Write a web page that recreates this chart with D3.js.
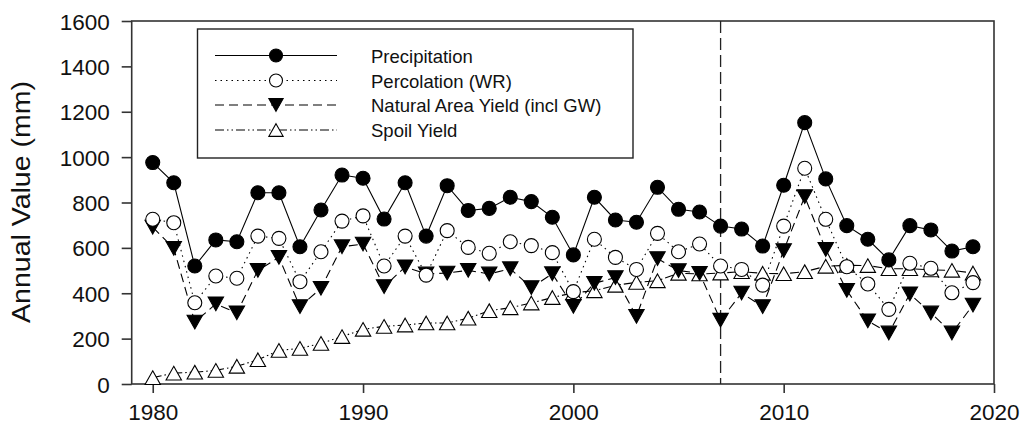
<!DOCTYPE html>
<html>
<head>
<meta charset="utf-8">
<script src="https://cdn.jsdelivr.net/npm/d3@7"></script>
<style>
  html, body { margin: 0; padding: 0; background: #fff; }
  svg { display: block; font-family: "Liberation Sans", Arial, sans-serif; }
</style>
</head>
<body>
<svg id="chart" width="1023" height="430"></svg>
<script>
const years = [1980,1981,1982,1983,1984,1985,1986,1987,1988,1989,
               1990,1991,1992,1993,1994,1995,1996,1997,1998,1999,
               2000,2001,2002,2003,2004,2005,2006,2007,2008,2009,
               2010,2011,2012,2013,2014,2015,2016,2017,2018,2019];
const precipitation = [976,887,520,635,627,843,843,605,767,921,
                       907,727,887,652,874,765,774,823,804,735,
                       569,823,723,713,867,770,758,696,683,608,
                       876,1152,904,698,638,547,698,679,586,605];
const percolation = [726,711,358,476,466,652,642,451,583,718,
                     741,520,652,480,676,602,576,627,610,579,
                     407,638,558,505,664,583,617,520,505,436,
                     696,951,726,517,441,329,532,510,402,447];
const naturalYield = [691,598,273,353,314,501,558,341,422,605,
                      617,429,516,485,489,501,485,508,425,486,
                      342,444,469,298,553,500,488,281,401,341,
                      588,826,593,413,278,225,397,313,225,348];
const spoilYield = [28,48,52,60,78,107,148,157,179,209,
                    241,254,260,269,269,290,323,336,357,381,
                    402,411,435,448,455,488,485,489,495,488,
                    486,495,519,523,522,508,508,503,501,489];
const seriesNames = ["Precipitation","Percolation (WR)","Natural Area Yield (incl GW)","Spoil Yield"];
const xTicks = [1980,1990,2000,2010,2020];
const yTicks = [0,200,400,600,800,1000,1200,1400,1600];
const yTitle = "Annual Value (mm)";
const markerYear = 2007;

(function () {
const svg = d3.select("#chart");
const pL = 131.7, pR = 994, pT = 21, pB = 384;
const x = d3.scaleLinear().domain([1979, 2020]).range([pL, pR]);
const y = d3.scaleLinear().domain([0, 1600]).range([pB, pT]);

const ink = "#111";

// frame
svg.append("rect").attr("x", pL).attr("y", pT)
  .attr("width", pR - pL).attr("height", pB - pT)
  .attr("fill", "none").attr("stroke", "#333").attr("stroke-width", 1.6);

// axes
const xAxis = svg.append("g").attr("transform", `translate(0,${pB})`)
  .call(d3.axisBottom(x).tickValues(xTicks).tickFormat(d3.format("d")).tickSize(9).tickPadding(11));
const yAxis = svg.append("g").attr("transform", `translate(${pL},0)`)
  .call(d3.axisLeft(y).tickValues(yTicks).tickFormat(d3.format("d")).tickSize(10).tickPadding(12));
[xAxis, yAxis].forEach(g => {
  g.select(".domain").remove();
  g.selectAll(".tick line").attr("stroke", "#333").attr("stroke-width", 1.6);
  g.selectAll(".tick text").attr("fill", ink).style("font-size", "22.5px")
    .style("font-family", '"Liberation Sans", Arial, sans-serif');
});
yAxis.selectAll(".tick text").attr("dy", "0.36em");

// y title
svg.append("text").attr("transform", "translate(30,202) rotate(-90)")
  .attr("text-anchor", "middle").attr("fill", ink)
  .style("font-size", "25px")
  .attr("textLength", 242).attr("lengthAdjust", "spacingAndGlyphs")
  .text(yTitle);

// vertical dashed line
svg.append("line").attr("x1", x(markerYear)).attr("x2", x(markerYear))
  .attr("y1", pT).attr("y2", pB)
  .attr("stroke", "#222").attr("stroke-width", 1.3).attr("stroke-dasharray", "12,5");

// marker shapes
const triUp = (s, h) => `M0,${-h/2}L${s/2},${h/2}L${-s/2},${h/2}Z`;
const triDown = (s, h) => `M0,${h/2}L${s/2},${-h/2}L${-s/2},${-h/2}Z`;

const series = [
  { name: seriesNames[0], vals: precipitation, dash: null, marker: "circle", fill: "#000" },
  { name: seriesNames[1], vals: percolation, dash: "1.5,4", marker: "circle", fill: "#fff" },
  { name: seriesNames[2], vals: naturalYield, dash: "9,5", marker: "down", fill: "#000" },
  { name: seriesNames[3], vals: spoilYield, dash: "9,3,1.5,3,1.5,3", marker: "up", fill: "#fff" }
];

function drawMarker(g, type, fill, r) {
  if (type === "circle") {
    g.append("circle").attr("r", r).attr("fill", fill).attr("stroke", "#000").attr("stroke-width", 1.1);
  } else if (type === "down") {
    g.append("path").attr("d", triDown(r * 2.2, r * 1.95)).attr("fill", fill).attr("stroke", "#000").attr("stroke-width", 1.1);
  } else {
    g.append("path").attr("d", triUp(r * 2.2, r * 1.95)).attr("fill", fill).attr("stroke", "#000").attr("stroke-width", 1.1);
  }
}

const line = d3.line().x((d, i) => x(years[i])).y(d => y(d));

series.forEach(s => {
  svg.append("path").datum(s.vals).attr("d", line)
    .attr("fill", "none").attr("stroke", "#000").attr("stroke-width", 1.1)
    .attr("stroke-dasharray", s.dash);
});
series.slice().reverse().forEach(s => {
  s.vals.forEach((v, i) => {
    const g = svg.append("g").attr("transform", `translate(${x(years[i])},${y(v)})`);
    drawMarker(g, s.marker, s.fill, 7);
  });
});

// legend
const lg = svg.append("g");
lg.append("rect").attr("x", 197.5).attr("y", 29).attr("width", 435.5).attr("height", 129)
  .attr("fill", "#fff").attr("stroke", "#222").attr("stroke-width", 1.4);
const rowY = [55.5, 80.5, 105, 130];
series.forEach((s, i) => {
  const yy = rowY[i];
  lg.append("line").attr("x1", 215).attr("x2", 337).attr("y1", yy).attr("y2", yy)
    .attr("stroke", "#000").attr("stroke-width", 1.1).attr("stroke-dasharray", s.dash);
  const g = lg.append("g").attr("transform", `translate(276,${yy})`);
  drawMarker(g, s.marker, s.fill, 6.5);
  lg.append("text").attr("x", 371).attr("y", yy + 7).attr("fill", ink)
    .style("font-size", "18.5px").text(s.name);
});
})();
</script>
</body>
</html>
